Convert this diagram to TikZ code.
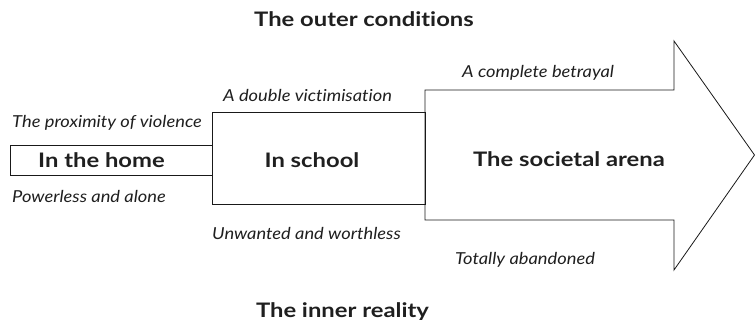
\documentclass[tikz,border=0pt]{standalone}
\usepackage{fontspec}
\setmainfont{Lato}[Ligatures={NoCommon},BoldFeatures={FakeStretch=1.19},ItalicFeatures={FakeStretch=1.11}]
\begin{document}
\begin{tikzpicture}[x=1pt,y=-1pt,
  boxline/.style={draw=black!90,line width=0.8pt},
  headlbl/.style={font=\fontsize{20}{24}\selectfont\bfseries,text=black!88,anchor=base,inner sep=0pt},
  boxlbl/.style={font=\fontsize{20}{24}\selectfont\bfseries,text=black!88,anchor=base,inner sep=0pt},
  itlbl/.style={font=\fontsize{16.5}{20}\selectfont\itshape,text=black!88,anchor=base west,inner sep=0pt}]
\useasboundingbox (0,0) rectangle (755,320);
% arrow
\draw[boxline] (425,90) -- (674,90) -- (674,41) -- (754.5,155) -- (674,270) -- (674,220) -- (425,220) -- cycle;
\node[boxline,minimum width=213pt,minimum height=92pt,inner sep=0pt] (school) at (318.5,158) {};
\node[boxline,minimum width=202pt,minimum height=30pt,inner sep=0pt] (home) at (111,160) {};
\node[boxlbl] (homet) at (101.5,168) {In the home};
\node[boxlbl] (schoolt) at (312,168) {In school};
\node[boxlbl] (arena) at (569,167) {The societal arena};
\node[headlbl] (outer) at (364,27) {The outer conditions};
\node[headlbl] (inner) at (342.5,317) {The inner reality};
\node[itlbl] (prox) at (12,128) {The proximity of violence};
\node[itlbl] (power) at (12,203) {Powerless and alone};
\node[itlbl] (double) at (223,102) {A double victimisation};
\node[itlbl] (unw) at (212,240) {Unwanted and worthless};
\node[itlbl] (betray) at (462,78) {A complete betrayal};
\node[itlbl] (aband) at (455,265) {Totally abandoned};
\end{tikzpicture}
\end{document}
